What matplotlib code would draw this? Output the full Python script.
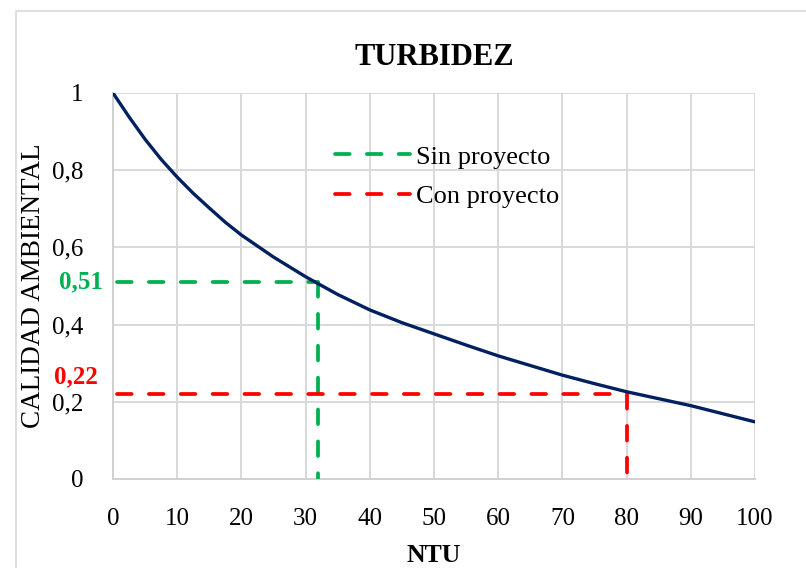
import numpy as np
import matplotlib.pyplot as plt
from matplotlib.patches import Rectangle

plt.rcParams['font.family'] = ['Liberation Serif', 'DejaVu Serif']

# Curva de calidad ambiental vs turbidez (NTU)
ntu = [0, 2.5, 5, 7.5, 10, 12.5, 15, 17.5, 20, 25, 30, 35, 40, 45, 50,
       55, 60, 65, 70, 75, 80, 85, 90, 95, 100]
calidad = [1.0, 0.938, 0.88, 0.828, 0.782, 0.74, 0.702, 0.665, 0.632, 0.575,
           0.524, 0.478, 0.438, 0.405, 0.376, 0.347, 0.319, 0.294, 0.269,
           0.247, 0.226, 0.208, 0.19, 0.169, 0.148]

# Escenarios
sin_ntu, sin_cal = 32, 0.51
con_ntu, con_cal = 80, 0.22

x_ticks = list(range(0, 101, 10))
y_ticks = [0, 0.2, 0.4, 0.6, 0.8, 1]
y_tick_labels = ['0', '0,2', '0,4', '0,6', '0,8', '1']

fig = plt.figure(figsize=(8.06, 5.68), dpi=100)
ax = fig.add_axes([0.1402, 0.1567, 0.7965, 0.6796])

# marco exterior del gráfico
fig.patches.append(Rectangle((16 / 806, -0.05), 1.0, 1 - 11 / 568 + 0.05,
                             transform=fig.transFigure, fill=False,
                             edgecolor='#D9D9D9', lw=1.2))

ax.plot(ntu, calidad, color='#002060', lw=2.4, solid_capstyle='round',
        solid_joinstyle='round', zorder=4)

dash_kw = dict(lw=2.7, dashes=(3.9, 4.6), dash_capstyle='round', zorder=3)
ax.plot([0.6, sin_ntu], [sin_cal, sin_cal], color='#00B050', label='Sin proyecto', **dash_kw)
ax.plot([sin_ntu, sin_ntu], [sin_cal, 0], color='#00B050', **dash_kw)
ax.plot([0.6, con_ntu], [con_cal, con_cal], color='#FF0000', label='Con proyecto', **dash_kw)
ax.plot([con_ntu, con_ntu], [con_cal, 0], color='#FF0000', **dash_kw)

ax.text(-1.5, sin_cal, '0,51', color='#00B050', fontsize=18, fontweight='bold',
        ha='right', va='center', clip_on=False)
ax.text(-2.4, 0.264, '0,22', color='#FF0000', fontsize=18, fontweight='bold',
        ha='right', va='center', clip_on=False)

ax.set_xlim(0, 100)
ax.set_ylim(0, 1)
ax.set_xticks(x_ticks)
ax.set_xticklabels([str(v) for v in x_ticks], fontsize=18)
ax.set_yticks(y_ticks)
ax.set_yticklabels(y_tick_labels, fontsize=18)
ax.tick_params(length=0)
ax.tick_params(axis='x', pad=21)
ax.tick_params(axis='y', pad=21)
ax.grid(True, color='#D9D9D9', lw=1.4)
ax.set_axisbelow(True)
for s in ax.spines.values():
    s.set_visible(False)
for side in ('left', 'bottom'):
    ax.spines[side].set_visible(True)
    ax.spines[side].set_color('#D0D0D0')
    ax.spines[side].set_linewidth(1.4)

ax.set_title('TURBIDEZ', fontsize=22, fontweight='bold', pad=20)
ax.set_xlabel('NTU', fontsize=18.5, fontweight='bold', labelpad=10)
ax.set_ylabel('CALIDAD AMBIENTAL', fontsize=19.5, labelpad=5)

ax.legend(loc='upper left', bbox_to_anchor=(0.346, 0.865), frameon=False,
          fontsize=19, handlelength=2.85, handletextpad=0.2, labelspacing=0.6,
          borderaxespad=0, borderpad=0)

fig.savefig('out.png', dpi=100, facecolor='white')
